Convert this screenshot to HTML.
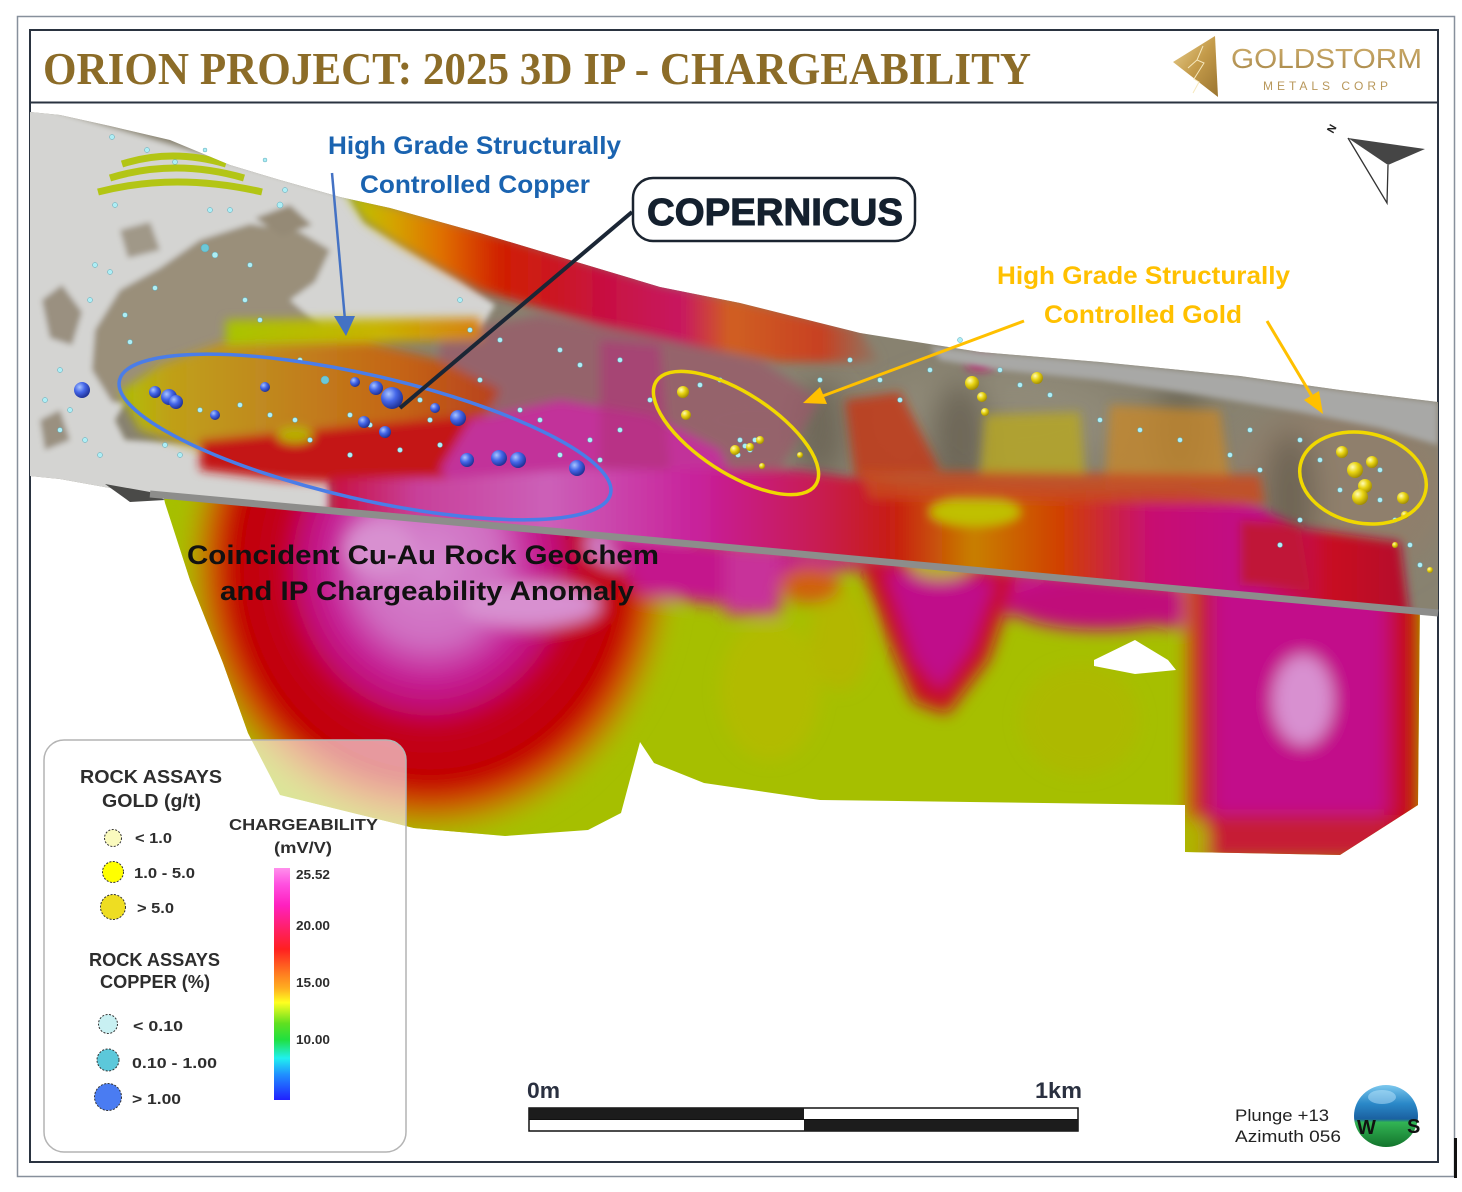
<!DOCTYPE html>
<html><head><meta charset="utf-8"><style>html,body{margin:0;padding:0;background:#fff}svg{display:block}</style></head>
<body>
<svg width="1462" height="1192" viewBox="0 0 1462 1192" xmlns="http://www.w3.org/2000/svg">
<defs>
<linearGradient id="gold" x1="0" y1="0" x2="1" y2="1"><stop offset="0" stop-color="#ead293"/><stop offset="0.5" stop-color="#c49b4a"/><stop offset="1" stop-color="#9a7430"/></linearGradient>
<linearGradient id="goldtxt" x1="0" y1="0" x2="0" y2="1"><stop offset="0" stop-color="#cfae6c"/><stop offset="1" stop-color="#a8884a"/></linearGradient>
<radialGradient id="lobe" cx="0" cy="0" r="1" gradientUnits="userSpaceOnUse" gradientTransform="translate(430 565) scale(250 275)">
<stop offset="0" stop-color="#d68ad0"/><stop offset="0.28" stop-color="#cf6cc0"/><stop offset="0.42" stop-color="#c52095"/><stop offset="0.52" stop-color="#c00a70"/><stop offset="0.6" stop-color="#c20020"/><stop offset="0.78" stop-color="#c20000"/><stop offset="0.86" stop-color="#cc5000"/><stop offset="0.94" stop-color="#b8a000"/><stop offset="1" stop-color="#a8c000"/>
</radialGradient>
<linearGradient id="col" x1="1185" y1="0" x2="1418" y2="0" gradientUnits="userSpaceOnUse">
<stop offset="0" stop-color="#c89000"/><stop offset="0.05" stop-color="#c82010"/><stop offset="0.14" stop-color="#c2108a"/><stop offset="0.84" stop-color="#c2108a"/><stop offset="0.93" stop-color="#c80018"/><stop offset="1" stop-color="#c03000"/>
</linearGradient>
<linearGradient id="topband" x1="345" y1="0" x2="880" y2="0" gradientUnits="userSpaceOnUse">
<stop offset="0" stop-color="#b4c800"/><stop offset="0.09" stop-color="#d4a400"/><stop offset="0.18" stop-color="#e07000"/><stop offset="0.29" stop-color="#d02000"/><stop offset="0.48" stop-color="#c81040"/><stop offset="0.63" stop-color="#c81860"/><stop offset="0.72" stop-color="#d06020"/><stop offset="0.89" stop-color="#c84020"/><stop offset="1" stop-color="#8a7a68"/>
</linearGradient>
<linearGradient id="botband" x1="330" y1="0" x2="1420" y2="0" gradientUnits="userSpaceOnUse">
<stop offset="0" stop-color="#c81040"/><stop offset="0.08" stop-color="#c8409a"/><stop offset="0.2" stop-color="#cc60b8"/><stop offset="0.34" stop-color="#c8209a"/><stop offset="0.45" stop-color="#c81a50"/><stop offset="0.52" stop-color="#c82010"/><stop offset="0.59" stop-color="#c88000"/><stop offset="0.67" stop-color="#d04000"/><stop offset="0.75" stop-color="#c81070"/><stop offset="0.85" stop-color="#c01088"/><stop offset="0.92" stop-color="#c81020"/><stop offset="1" stop-color="#b01030"/>
</linearGradient>
<linearGradient id="orz" x1="120" y1="0" x2="500" y2="0" gradientUnits="userSpaceOnUse">
<stop offset="0" stop-color="#b0c000"/><stop offset="0.13" stop-color="#c0a018"/><stop offset="0.37" stop-color="#c08a20"/><stop offset="0.74" stop-color="#c46414"/><stop offset="1" stop-color="#b84020"/>
</linearGradient>
<linearGradient id="limez" x1="226" y1="0" x2="480" y2="0" gradientUnits="userSpaceOnUse">
<stop offset="0" stop-color="#a8c400"/><stop offset="0.6" stop-color="#c8b400"/><stop offset="1" stop-color="#d88010"/>
</linearGradient>
<linearGradient id="cbar" x1="0" y1="868" x2="0" y2="1100" gradientUnits="userSpaceOnUse">
<stop offset="0" stop-color="#ff90ec"/><stop offset="0.07" stop-color="#ff50e0"/><stop offset="0.16" stop-color="#ff20c0"/><stop offset="0.27" stop-color="#ff2060"/><stop offset="0.35" stop-color="#ff2020"/><stop offset="0.46" stop-color="#ff8020"/><stop offset="0.52" stop-color="#ffb020"/><stop offset="0.58" stop-color="#ffff20"/><stop offset="0.67" stop-color="#60e020"/><stop offset="0.74" stop-color="#20e040"/><stop offset="0.82" stop-color="#20f0f0"/><stop offset="0.89" stop-color="#2090ff"/><stop offset="1" stop-color="#2020ff"/>
</linearGradient>
<radialGradient id="sb" cx="0.35" cy="0.32" r="0.75"><stop offset="0" stop-color="#a8c4ff"/><stop offset="0.45" stop-color="#4466e8"/><stop offset="1" stop-color="#1a2a8a"/></radialGradient>
<radialGradient id="sy" cx="0.35" cy="0.32" r="0.75"><stop offset="0" stop-color="#fffcb8"/><stop offset="0.45" stop-color="#e8d412"/><stop offset="1" stop-color="#9a8400"/></radialGradient>
<linearGradient id="globe" x1="0" y1="0" x2="0" y2="1"><stop offset="0" stop-color="#7cc8ee"/><stop offset="0.3" stop-color="#2a88c8"/><stop offset="0.55" stop-color="#1a60a0"/><stop offset="0.6" stop-color="#32b454"/><stop offset="1" stop-color="#13742c"/></linearGradient>
<filter id="bl3" x="-10%" y="-10%" width="120%" height="120%"><feGaussianBlur stdDeviation="3"/></filter>
<filter id="bl5" x="-10%" y="-10%" width="120%" height="120%"><feGaussianBlur stdDeviation="5"/></filter>
<filter id="bl8" x="-10%" y="-10%" width="120%" height="120%"><feGaussianBlur stdDeviation="8"/></filter>
<filter id="bl14" x="-20%" y="-20%" width="140%" height="140%"><feGaussianBlur stdDeviation="14"/></filter>
<clipPath id="blk"><path d="M160,480 L1420,595 L1418,805 L1340,855 L1185,852 L1185,805 L970,802 L820,800 L704,783 L654,763 L640,742 L621,813 L588,830 L505,836 L414,828 L280,795 L248,733 L223,663 L190,580 L165,503 Z"/></clipPath>
<clipPath id="ter"><path d="M30,112 L60,115 L110,126 L170,140 L230,165 L280,180 L340,197 L390,208 L480,233 L570,260 L660,287 L740,303 L860,333 L980,352 L1100,362 L1240,376 L1340,390 L1438,402 L1438,613 L150,494 L110,488 L60,479 L30,476 Z"/></clipPath>
</defs>

<rect width="1462" height="1192" fill="#fff"/>
<!-- frames -->
<rect x="17.5" y="16.5" width="1437" height="1160" fill="none" stroke="#87909c" stroke-width="1.5"/>
<rect x="1454" y="1138" width="3" height="40" fill="#111"/>
<rect x="30" y="30" width="1408" height="1132" fill="#fff" stroke="#2a3340" stroke-width="2"/>
<line x1="30" y1="102.5" x2="1438" y2="102.5" stroke="#2a3340" stroke-width="2"/>

<!-- title -->
<text x="43" y="84" font-family="Liberation Serif, serif" font-weight="bold" font-size="46" fill="#8c6c28" textLength="988" lengthAdjust="spacingAndGlyphs">ORION PROJECT: 2025 3D IP - CHARGEABILITY</text>
<!-- logo -->
<polygon points="1173,62 1215,36 1218,97" fill="url(#gold)"/>
<path d="M1203,46 L1197,60 L1204,63 L1194,79 L1199,82 L1193,93 M1197,60 L1188,68" stroke="#f6e8bd" stroke-width="1" fill="none"/>
<text x="1231" y="68" font-family="Liberation Sans, sans-serif" font-size="28" fill="url(#goldtxt)" textLength="191" lengthAdjust="spacingAndGlyphs">GOLDSTORM</text>
<text x="1263" y="90" font-family="Liberation Sans, sans-serif" font-size="12" fill="#b8975a" textLength="125" lengthAdjust="spacing">METALS CORP</text>

<!-- chargeability block -->
<g clip-path="url(#blk)">
<rect x="140" y="470" width="1300" height="400" fill="#a6bf00"/>
<g filter="url(#bl8)">
<ellipse cx="770" cy="690" rx="50" ry="70" fill="#bcb800" opacity="0.55"/>
<ellipse cx="1080" cy="720" rx="60" ry="55" fill="#b4b400" opacity="0.5"/>
<ellipse cx="840" cy="640" rx="30" ry="50" fill="#c0b000" opacity="0.5"/>
<ellipse cx="430" cy="565" rx="250" ry="275" fill="url(#lobe)"/>
<ellipse cx="380" cy="548" rx="35" ry="28" fill="#d890d0"/>
<ellipse cx="530" cy="605" rx="70" ry="22" fill="#d890d0"/>
<ellipse cx="640" cy="545" rx="55" ry="25" fill="#d080c8"/>
<path d="M600,530 L1185,585 L1185,628 L1010,615 L880,568 L800,572 L720,605 L640,595 Z" fill="#c4188c"/>
<rect x="725" y="545" width="55" height="70" fill="#c8309a"/>
<ellipse cx="810" cy="585" rx="30" ry="18" fill="#d06010"/>
<path d="M858,558 L1018,572 L988,660 L947,714 L914,702 L888,640 Z" fill="#c80a20"/>
<path d="M885,570 L995,580 L970,650 L940,690 L915,660 Z" fill="#c0108a"/>
<ellipse cx="940" cy="565" rx="30" ry="14" fill="#b8b400"/>
<ellipse cx="1100" cy="605" rx="90" ry="25" fill="#c0107a"/>
<rect x="1185" y="560" width="235" height="300" fill="url(#col)"/>
<ellipse cx="1303" cy="700" rx="30" ry="45" fill="#d890d0"/>
<rect x="1190" y="815" width="230" height="45" fill="#c82010" opacity="0.7"/>
<ellipse cx="1195" cy="840" rx="14" ry="22" fill="#b0b000"/>
</g>
<polygon points="1094,660 1135,640 1168,660 1176,670 1135,674 1094,666" fill="#fff"/>
</g>

<!-- terrain surface -->
<g clip-path="url(#ter)">
<rect x="20" y="100" width="1430" height="520" fill="#888270"/>
<g filter="url(#bl14)">
<ellipse cx="1340" cy="490" rx="110" ry="90" fill="#8f7f6c"/>
<ellipse cx="1000" cy="420" rx="120" ry="50" fill="#908a78"/>
<ellipse cx="760" cy="420" rx="90" ry="40" fill="#8a8272"/>
<ellipse cx="960" cy="440" rx="30" ry="60" fill="#6e6858"/>
<ellipse cx="1180" cy="430" rx="25" ry="55" fill="#706a5a"/>
<ellipse cx="1290" cy="500" rx="25" ry="70" fill="#6e6554"/>
<ellipse cx="820" cy="430" rx="25" ry="50" fill="#6e6858"/>
</g>
<g filter="url(#bl3)">
<path d="M20,100 L350,197 L365,222 L410,250 L460,280 L495,305 L480,330 L330,335 L300,345 L240,360 L210,390 L130,395 L115,420 L125,440 L250,447 L330,468 L330,510 L20,510 Z" fill="#d4d4d2"/>
<path d="M95,330 L120,290 L160,268 L200,240 L250,224 L300,232 L330,250 L315,282 L290,300 L322,328 L300,345 L240,360 L210,390 L160,408 L112,402 L92,370 Z" fill="#9a8f7a"/>
<path d="M42,300 L62,285 L82,312 L72,345 L50,338 Z" fill="#9a9080"/>
<path d="M40,420 L60,410 L70,440 L45,450 Z" fill="#9a9080"/>
<path d="M255,218 L290,205 L312,225 L282,236 Z" fill="#958a76"/>
<path d="M120,230 L150,222 L160,250 L128,258 Z" fill="#a09888"/>
</g>
<g fill="none" stroke="#b0c400" stroke-width="7" opacity="0.9">
<path d="M98,192 Q175,172 262,192"/>
<path d="M110,178 Q175,158 244,178"/>
<path d="M122,164 Q172,148 226,164"/>
</g>
<g filter="url(#bl5)">
<path d="M345,192 L390,205 L480,230 L570,257 L660,284 L740,300 L860,330 L880,362 L780,362 L690,345 L600,325 L530,305 L480,290 L440,268 L400,245 L365,222 Z" fill="url(#topband)"/>
<path d="M440,335 L540,315 L650,335 L760,360 L820,400 L780,470 L700,470 L560,430 L480,420 L440,380 Z" fill="#9a5868" opacity="0.75"/>
<path d="M120,392 L160,365 L230,340 L330,333 L440,360 L500,390 L480,425 L400,445 L300,455 L200,450 L140,430 Z" fill="url(#orz)"/>
<path d="M226,320 L480,318 L482,340 L226,345 Z" fill="url(#limez)"/>
<path d="M200,440 L360,425 L480,415 L540,440 L520,482 L400,486 L280,480 L200,470 Z" fill="#c41818"/>
<ellipse cx="295" cy="435" rx="18" ry="8" fill="#b8b000"/>
<path d="M470,420 L560,400 L650,415 L720,450 L740,500 L700,530 L560,530 L470,500 L440,470 Z" fill="#c2309a"/>
<path d="M330,478 L450,478 L600,468 L800,470 L900,485 L1190,493 L1260,508 L1300,528 L1400,542 L1410,620 L330,520 Z" fill="url(#botband)"/>
<ellipse cx="975" cy="512" rx="45" ry="14" fill="#c0c000"/>
<path d="M845,400 L900,392 L940,470 L855,478 Z" fill="#c23a18" opacity="0.85"/>
<path d="M985,415 L1080,412 L1085,475 L980,478 Z" fill="#b8a820" opacity="0.8"/>
<path d="M1110,405 L1220,410 L1230,482 L1105,485 Z" fill="#c88828" opacity="0.75"/>
<path d="M860,470 L1260,475 L1265,505 L870,498 Z" fill="#c84a20" opacity="0.85"/>
<path d="M1240,520 L1300,525 L1310,590 L1240,585 Z" fill="#c01838"/>
<path d="M600,340 L660,345 L670,470 L600,470 Z" fill="#b0307a" opacity="0.6"/>
<ellipse cx="980" cy="364" rx="14" ry="6" fill="#c01870"/>
</g>
<path filter="url(#bl3)" d="M930,346 L980,352 L1100,362 L1240,376 L1340,390 L1438,402 L1438,445 L1380,428 L1300,412 L1200,395 L1100,380 L1000,370 L940,360 Z" fill="#a8a8a6"/>
</g>
<!-- gray edge line and shadow -->
<path d="M105,484 L150,492 L165,500 L130,502 Z" fill="#4a4a48"/>
<path d="M150,494 L1438,613" stroke="#8d8d8b" stroke-width="7"/>

<!-- cyan dots -->
<g fill="#aeeef5" stroke="#5aa8b8" stroke-width="0.5">
<circle cx="112" cy="137" r="2.5"/><circle cx="147" cy="150" r="2.5"/><circle cx="175" cy="162" r="2.5"/><circle cx="205" cy="150" r="2"/><circle cx="210" cy="210" r="2.5"/><circle cx="230" cy="210" r="2.5"/><circle cx="280" cy="205" r="3"/><circle cx="285" cy="190" r="2.5"/><circle cx="265" cy="160" r="2"/><circle cx="115" cy="205" r="2.5"/><circle cx="95" cy="265" r="2.5"/><circle cx="110" cy="272" r="2.5"/><circle cx="90" cy="300" r="2.5"/><circle cx="125" cy="315" r="2.5"/><circle cx="205" cy="248" r="4" fill="#6cc8d8"/><circle cx="215" cy="255" r="3"/><circle cx="250" cy="265" r="2.5"/><circle cx="155" cy="288" r="2.5"/><circle cx="130" cy="342" r="2.5"/><circle cx="60" cy="370" r="2.5"/><circle cx="70" cy="410" r="2.5"/><circle cx="45" cy="400" r="2.5"/><circle cx="85" cy="440" r="2.5"/><circle cx="100" cy="455" r="2.5"/><circle cx="60" cy="430" r="2.5"/><circle cx="245" cy="300" r="2.5"/><circle cx="260" cy="320" r="2.5"/><circle cx="300" cy="360" r="2.5"/><circle cx="325" cy="380" r="4" fill="#6cc8d8"/><circle cx="350" cy="415" r="2.5"/><circle cx="370" cy="425" r="2.5"/><circle cx="420" cy="400" r="2.5"/><circle cx="430" cy="420" r="2.5"/><circle cx="440" cy="445" r="2.5"/><circle cx="400" cy="450" r="2.5"/><circle cx="350" cy="455" r="2.5"/><circle cx="310" cy="440" r="2.5"/><circle cx="295" cy="420" r="2.5"/><circle cx="270" cy="415" r="2.5"/><circle cx="240" cy="405" r="2.5"/><circle cx="200" cy="410" r="2.5"/><circle cx="165" cy="445" r="2.5"/><circle cx="180" cy="455" r="2.5"/><circle cx="520" cy="410" r="2.5"/><circle cx="540" cy="420" r="2.5"/><circle cx="560" cy="455" r="2.5"/><circle cx="600" cy="460" r="2.5"/><circle cx="620" cy="430" r="2.5"/><circle cx="650" cy="400" r="2.5"/><circle cx="700" cy="385" r="2.5"/><circle cx="720" cy="380" r="2.5"/><circle cx="740" cy="440" r="2.5"/><circle cx="745" cy="446" r="2.5"/><circle cx="750" cy="450" r="2.5"/><circle cx="738" cy="455" r="2.5"/><circle cx="755" cy="440" r="2.5"/><circle cx="820" cy="380" r="2.5"/><circle cx="850" cy="360" r="2.5"/><circle cx="880" cy="380" r="2.5"/><circle cx="900" cy="400" r="2.5"/><circle cx="960" cy="340" r="2.5"/><circle cx="1000" cy="370" r="2.5"/><circle cx="1050" cy="395" r="2.5"/><circle cx="1100" cy="420" r="2.5"/><circle cx="1140" cy="430" r="2.5"/><circle cx="1180" cy="440" r="2.5"/><circle cx="1230" cy="455" r="2.5"/><circle cx="1260" cy="470" r="2.5"/><circle cx="1300" cy="440" r="2.5"/><circle cx="1320" cy="460" r="2.5"/><circle cx="1340" cy="490" r="2.5"/><circle cx="1380" cy="470" r="2.5"/><circle cx="1395" cy="520" r="2.5"/><circle cx="1410" cy="545" r="2.5"/><circle cx="1420" cy="565" r="2.5"/><circle cx="1380" cy="500" r="2.5"/><circle cx="1300" cy="520" r="2.5"/><circle cx="1280" cy="545" r="2.5"/><circle cx="460" cy="300" r="2.5"/><circle cx="470" cy="330" r="2.5"/><circle cx="500" cy="340" r="2.5"/><circle cx="560" cy="350" r="2.5"/><circle cx="580" cy="365" r="2.5"/><circle cx="620" cy="360" r="2.5"/><circle cx="480" cy="380" r="2.5"/><circle cx="590" cy="440" r="2.5"/><circle cx="930" cy="370" r="2.5"/><circle cx="1020" cy="385" r="2.5"/><circle cx="1250" cy="430" r="2.5"/>
</g>

<!-- blue spheres -->
<g>
<circle cx="82" cy="390" r="8" fill="url(#sb)"/><circle cx="155" cy="392" r="6" fill="url(#sb)"/><circle cx="169" cy="397" r="8" fill="url(#sb)"/><circle cx="176" cy="402" r="7" fill="url(#sb)"/><circle cx="215" cy="415" r="5" fill="url(#sb)"/><circle cx="265" cy="387" r="5" fill="url(#sb)"/><circle cx="355" cy="382" r="5" fill="url(#sb)"/><circle cx="376" cy="388" r="7" fill="url(#sb)"/><circle cx="392" cy="398" r="11" fill="url(#sb)"/><circle cx="435" cy="408" r="5" fill="url(#sb)"/><circle cx="458" cy="418" r="8" fill="url(#sb)"/><circle cx="364" cy="422" r="6" fill="url(#sb)"/><circle cx="385" cy="432" r="6" fill="url(#sb)"/><circle cx="467" cy="460" r="7" fill="url(#sb)"/><circle cx="499" cy="458" r="8" fill="url(#sb)"/><circle cx="518" cy="460" r="8" fill="url(#sb)"/><circle cx="577" cy="468" r="8" fill="url(#sb)"/>
</g>
<!-- yellow spheres -->
<g>
<circle cx="683" cy="392" r="6" fill="url(#sy)"/><circle cx="686" cy="415" r="5" fill="url(#sy)"/><circle cx="735" cy="450" r="5" fill="url(#sy)"/><circle cx="750" cy="447" r="4" fill="url(#sy)"/><circle cx="760" cy="440" r="4" fill="url(#sy)"/><circle cx="762" cy="466" r="3" fill="url(#sy)"/><circle cx="800" cy="455" r="3" fill="url(#sy)"/><circle cx="972" cy="383" r="7" fill="url(#sy)"/><circle cx="982" cy="397" r="5" fill="url(#sy)"/><circle cx="985" cy="412" r="4" fill="url(#sy)"/><circle cx="1037" cy="378" r="6" fill="url(#sy)"/><circle cx="1342" cy="452" r="6" fill="url(#sy)"/><circle cx="1355" cy="470" r="8" fill="url(#sy)"/><circle cx="1372" cy="462" r="6" fill="url(#sy)"/><circle cx="1365" cy="486" r="7" fill="url(#sy)"/><circle cx="1360" cy="497" r="8" fill="url(#sy)"/><circle cx="1403" cy="498" r="6" fill="url(#sy)"/><circle cx="1405" cy="515" r="4" fill="url(#sy)"/><circle cx="1395" cy="545" r="3" fill="url(#sy)"/><circle cx="1430" cy="570" r="3" fill="url(#sy)"/>
</g>

<!-- ellipses -->
<ellipse cx="365" cy="437" rx="252" ry="62" transform="rotate(13 365 437)" fill="none" stroke="#4a7de8" stroke-width="3.5"/>
<ellipse cx="736" cy="433" rx="95" ry="40" transform="rotate(33 736 433)" fill="none" stroke="#f0d800" stroke-width="3.5"/>
<ellipse cx="1363" cy="478" rx="64" ry="45" transform="rotate(12 1363 478)" fill="none" stroke="#f0d800" stroke-width="3.5"/>

<!-- annotations -->
<text x="328" y="154" font-family="Liberation Sans, sans-serif" font-weight="bold" font-size="25" fill="#1a63b0" textLength="293" lengthAdjust="spacingAndGlyphs">High Grade Structurally</text>
<text x="360" y="193" font-family="Liberation Sans, sans-serif" font-weight="bold" font-size="25" fill="#1a63b0" textLength="230" lengthAdjust="spacingAndGlyphs">Controlled Copper</text>
<line x1="332" y1="173" x2="345" y2="320" stroke="#4472c4" stroke-width="2.5"/>
<polygon points="334,316 355,316 346,336" fill="#4472c4"/>

<line x1="632" y1="212" x2="400" y2="408" stroke="#1b2635" stroke-width="4"/>
<rect x="633" y="178" width="282" height="63" rx="20" fill="#fff" stroke="#1b2430" stroke-width="2.5"/>
<text x="647" y="225" font-family="Liberation Sans, sans-serif" font-weight="bold" font-size="38" fill="#14202e" stroke="#14202e" stroke-width="1" textLength="256" lengthAdjust="spacingAndGlyphs">COPERNICUS</text>

<text x="997" y="284" font-family="Liberation Sans, sans-serif" font-weight="bold" font-size="25" fill="#ffc000" textLength="293" lengthAdjust="spacingAndGlyphs">High Grade Structurally</text>
<text x="1044" y="323" font-family="Liberation Sans, sans-serif" font-weight="bold" font-size="25" fill="#ffc000" textLength="198" lengthAdjust="spacingAndGlyphs">Controlled Gold</text>
<line x1="1024" y1="321" x2="820" y2="397" stroke="#ffc000" stroke-width="3"/>
<polygon points="803,403 827,404 820,387" fill="#ffc000"/>
<line x1="1267" y1="321" x2="1313" y2="398" stroke="#ffc000" stroke-width="3"/>
<polygon points="1323,414 1304,400 1319,391" fill="#ffc000"/>

<text x="187" y="564" font-family="Liberation Sans, sans-serif" font-weight="bold" font-size="27" fill="#111" textLength="472" lengthAdjust="spacingAndGlyphs">Coincident Cu-Au Rock Geochem</text>
<text x="220" y="600" font-family="Liberation Sans, sans-serif" font-weight="bold" font-size="27" fill="#111" textLength="414" lengthAdjust="spacingAndGlyphs">and IP Chargeability Anomaly</text>

<!-- north arrow -->
<polygon points="1348,138 1425,149 1388,165" fill="#454545"/>
<path d="M1348,138 L1387,203 L1388,165" fill="none" stroke="#333" stroke-width="1.3"/>
<text transform="translate(1333,134) rotate(-60)" font-family="Liberation Sans, sans-serif" font-weight="bold" font-size="11" fill="#222">N</text>

<!-- legend -->
<rect x="44" y="740" width="362" height="412" rx="20" fill="#fff" fill-opacity="0.6" stroke="#b4b4b4" stroke-width="1.5"/>
<g font-family="Liberation Sans, sans-serif" font-weight="bold" fill="#2d2d2d">
<text x="80" y="783" font-size="18" textLength="142" lengthAdjust="spacingAndGlyphs">ROCK ASSAYS</text>
<text x="102" y="807" font-size="18" textLength="99" lengthAdjust="spacingAndGlyphs">GOLD (g/t)</text>
<text x="135" y="843" font-size="15" textLength="37" lengthAdjust="spacingAndGlyphs">&lt; 1.0</text>
<text x="134" y="878" font-size="15" textLength="61" lengthAdjust="spacingAndGlyphs">1.0 - 5.0</text>
<text x="137" y="913" font-size="15" textLength="37" lengthAdjust="spacingAndGlyphs">&gt; 5.0</text>
<text x="89" y="966" font-size="18" textLength="131" lengthAdjust="spacingAndGlyphs">ROCK ASSAYS</text>
<text x="100" y="988" font-size="18" textLength="110" lengthAdjust="spacingAndGlyphs">COPPER (%)</text>
<text x="133" y="1031" font-size="15" textLength="50" lengthAdjust="spacingAndGlyphs">&lt; 0.10</text>
<text x="132" y="1068" font-size="15" textLength="85" lengthAdjust="spacingAndGlyphs">0.10 - 1.00</text>
<text x="132" y="1104" font-size="15" textLength="49" lengthAdjust="spacingAndGlyphs">&gt; 1.00</text>
<text x="229" y="830" font-size="16" textLength="149" lengthAdjust="spacingAndGlyphs">CHARGEABILITY</text>
<text x="274" y="853" font-size="16" textLength="58" lengthAdjust="spacingAndGlyphs">(mV/V)</text>
<text x="296" y="879" font-size="13" textLength="34" lengthAdjust="spacingAndGlyphs">25.52</text>
<text x="296" y="930" font-size="13" textLength="34" lengthAdjust="spacingAndGlyphs">20.00</text>
<text x="296" y="987" font-size="13" textLength="34" lengthAdjust="spacingAndGlyphs">15.00</text>
<text x="296" y="1044" font-size="13" textLength="34" lengthAdjust="spacingAndGlyphs">10.00</text>
</g>
<g stroke="#333" stroke-width="1" stroke-dasharray="2 1.5">
<circle cx="113" cy="838" r="8.5" fill="#fafabe"/>
<circle cx="113" cy="872" r="10.5" fill="#ffff00"/>
<circle cx="113" cy="907" r="12.5" fill="#eedd22"/>
<circle cx="108" cy="1024" r="9.5" fill="#c8f0f2"/>
<circle cx="108" cy="1060" r="11" fill="#5cc8da"/>
<circle cx="108" cy="1097" r="13.5" fill="#4a7cf2"/>
</g>
<rect x="274" y="868" width="16" height="232" fill="url(#cbar)"/>

<!-- scale bar -->
<g font-family="Liberation Sans, sans-serif" font-weight="bold" fill="#2a3040">
<text x="527" y="1098" font-size="22" textLength="33" lengthAdjust="spacingAndGlyphs">0m</text>
<text x="1035" y="1098" font-size="22" textLength="47" lengthAdjust="spacingAndGlyphs">1km</text>
</g>
<rect x="529" y="1108" width="549" height="23" fill="#fff" stroke="#111" stroke-width="1.5"/>
<rect x="529" y="1108" width="275" height="11.5" fill="#1c1c1c"/>
<rect x="804" y="1119.5" width="274" height="11.5" fill="#1c1c1c"/>
<line x1="529" y1="1119.5" x2="1078" y2="1119.5" stroke="#111" stroke-width="1"/>

<g font-family="Liberation Sans, sans-serif" fill="#222">
<text x="1235" y="1121" font-size="17" textLength="94" lengthAdjust="spacingAndGlyphs">Plunge +13</text>
<text x="1235" y="1142" font-size="17" textLength="106" lengthAdjust="spacingAndGlyphs">Azimuth 056</text>
</g>
<ellipse cx="1386" cy="1116" rx="32" ry="31" fill="url(#globe)"/>
<ellipse cx="1382" cy="1097" rx="14" ry="7" fill="#c8ecff" opacity="0.45"/>
<text x="1357" y="1134" font-family="Liberation Sans, sans-serif" font-weight="bold" font-size="20" fill="#111">W</text>
<text x="1407" y="1133" font-family="Liberation Sans, sans-serif" font-weight="bold" font-size="20" fill="#111">S</text>
</svg>
</body></html>
